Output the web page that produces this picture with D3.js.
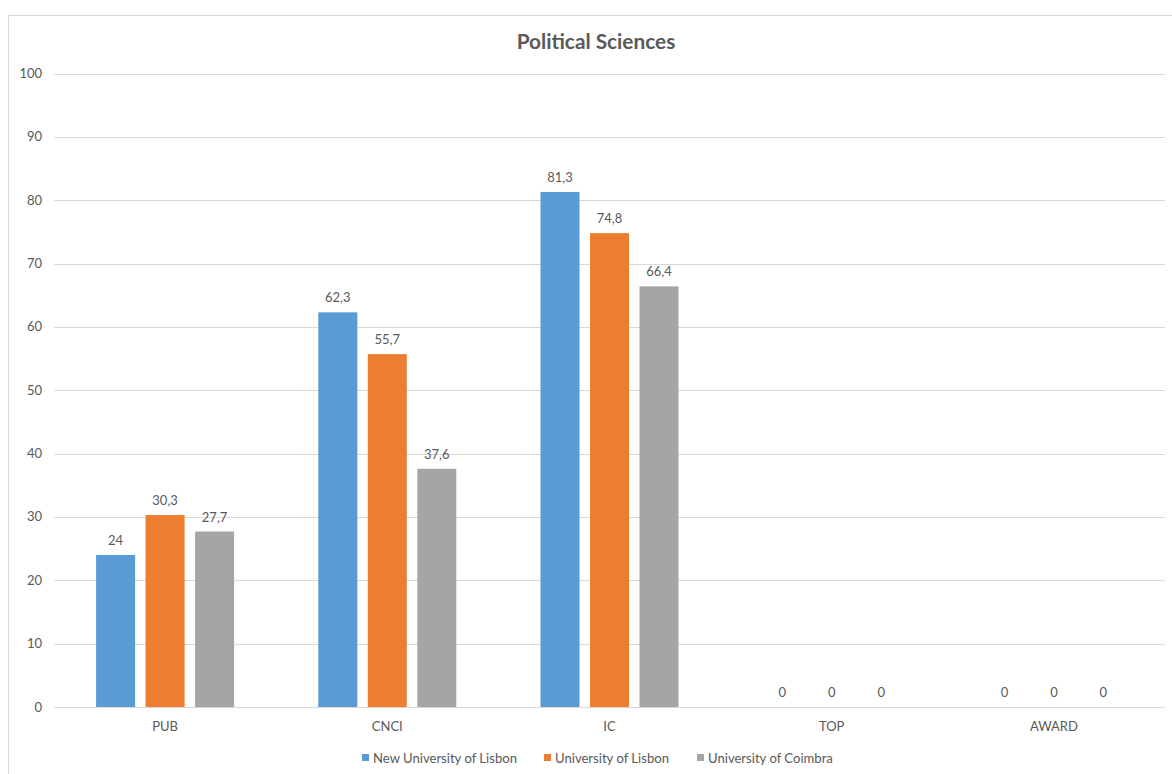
<!DOCTYPE html>
<html><head><meta charset="utf-8">
<script src="https://cdn.jsdelivr.net/npm/d3@7"></script>
<style>
html,body{margin:0;padding:0;background:#fff;}
svg{display:block;font-family:Lato,"Open Sans",sans-serif;}
</style></head>
<body>
<svg id="chart" width="1172" height="774"></svg>
<script>
const title = "Political Sciences";
const categories = ["PUB","CNCI","IC","TOP","AWARD"];
const seriesNames = ["New University of Lisbon","University of Lisbon","University of Coimbra"];
const newLisbon = [24, 62.3, 81.3, 0, 0];
const uLisbon = [30.3, 55.7, 74.8, 0, 0];
const coimbra = [27.7, 37.6, 66.4, 0, 0];
const yTicks = [0,10,20,30,40,50,60,70,80,90,100];
const colors = ["#5B9BD5","#ED7D31","#A5A5A5"];

(function(){
const series = [newLisbon, uLisbon, coimbra];
const svg = d3.select("#chart");
const textColor = "#595959";

// chart border
svg.append("rect").attr("x",8.5).attr("y",15.5).attr("width",1180).attr("height",800)
  .attr("fill","none").attr("stroke","#D9D9D9").attr("stroke-width",1);

const pLeft = 54, pRight = 1165, pTop = 73.5, pBottom = 707;
const y = d3.scaleLinear().domain([0,100]).range([pBottom, pTop]);
const x0 = d3.scaleBand().domain(categories).range([pLeft, pRight]).padding(0);

// gridlines
svg.append("g").selectAll("line").data(yTicks).join("line")
  .attr("x1", pLeft).attr("x2", pRight)
  .attr("y1", d => Math.round(y(d))+0.5).attr("y2", d => Math.round(y(d))+0.5)
  .attr("stroke","#D9D9D9").attr("stroke-width",1);

// y labels
svg.append("g").selectAll("text").data(yTicks).join("text")
  .attr("x", 42).attr("y", d => y(d)+4.5)
  .attr("text-anchor","end").attr("font-size",13).attr("fill",textColor)
  .text(d => d);

// x labels
svg.append("g").selectAll("text").data(categories).join("text")
  .attr("x", d => x0(d)+x0.bandwidth()/2).attr("y", 731)
  .attr("text-anchor","middle").attr("font-size",13).attr("fill",textColor)
  .text(d => d);

// bars
const groupW = 138;
categories.forEach((cat, ci) => {
  const cx = x0(cat) + x0.bandwidth()/2;
  const x1 = d3.scaleBand().domain(d3.range(series.length))
    .range([cx - groupW/2, cx + groupW/2]).paddingInner(0.212).paddingOuter(0);
  series.forEach((s, si) => {
    const v = s[ci];
    svg.append("rect")
      .attr("x", x1(si)).attr("width", x1.bandwidth())
      .attr("y", y(v)).attr("height", pBottom - y(v))
      .attr("fill", colors[si]);
    svg.append("text")
      .attr("x", x1(si) + x1.bandwidth()/2).attr("y", y(v) - 10)
      .attr("text-anchor","middle").attr("font-size",13).attr("fill",textColor)
      .text(String(v).replace(".", ","));
  });
});

// title
svg.append("text").attr("x", 596).attr("y", 49)
  .attr("text-anchor","middle").attr("font-size",20.8).attr("font-weight","bold")
  .attr("fill",textColor).text(title);

// legend
const legendX = [362, 544, 697];
const lg = svg.append("g");
seriesNames.forEach((n, i) => {
  lg.append("rect").attr("x", legendX[i]).attr("y", 754).attr("width", 7).attr("height", 7).attr("fill", colors[i]);
  lg.append("text").attr("x", legendX[i]+11).attr("y", 763)
    .attr("font-size",13.1).attr("fill",textColor).text(n);
});
})();
</script>
</body></html>
